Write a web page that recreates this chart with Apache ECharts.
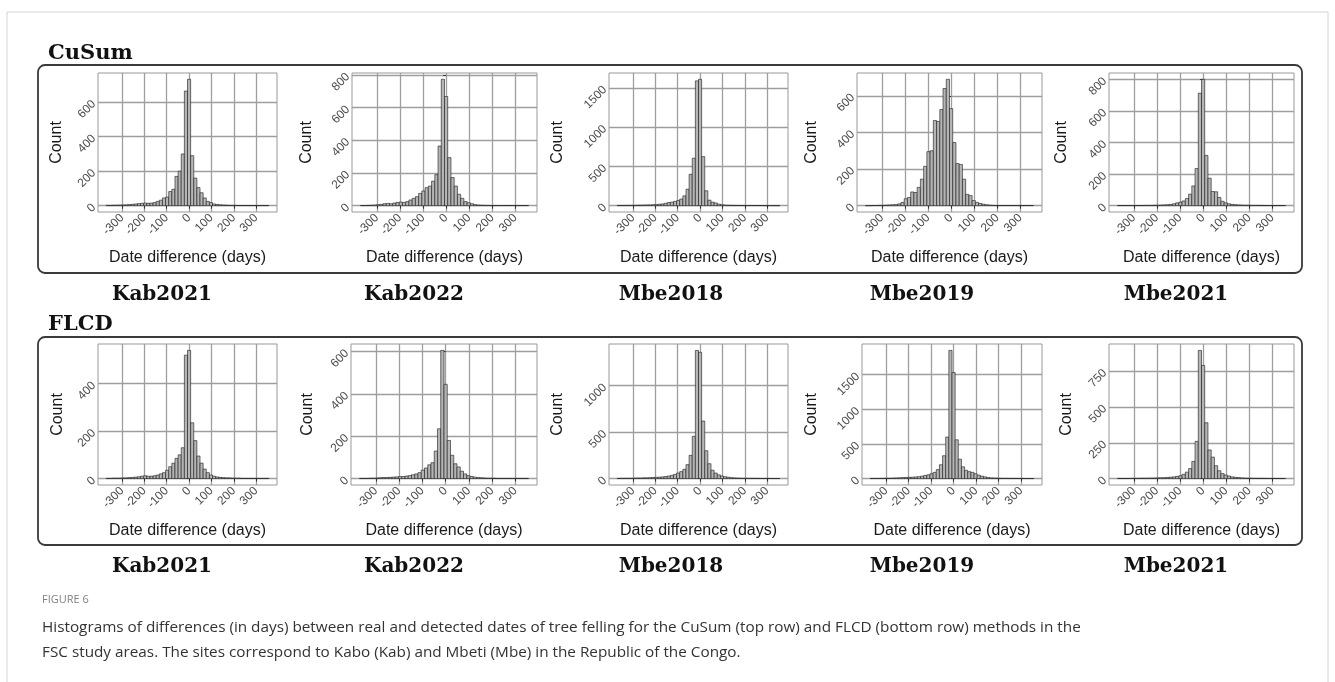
<!DOCTYPE html>
<html>
<head>
<meta charset="utf-8">
<script src="https://cdn.jsdelivr.net/npm/echarts@6/dist/echarts.min.js"></script>
<style>
html, body { margin: 0; padding: 0; background: #fff; }
#main { width: 1335px; height: 682px; }
</style>
</head>
<body>
<div id="main"></div>
<script>
// histogram bins (centre of each 14-day bin)
var binCenters = [-364,-350,-336,-322,-308,-294,-280,-266,-252,-238,-224,-210,-196,-182,-168,-154,-140,-126,-112,-98,-84,-70,-56,-42,-28,-14,0,14,28,42,56,70,84,98,112,126,140,154,168,182,196,210,224,238,252,266,280,294,308,322,336,350];
var binWidth = 14;

// CuSum (top row)
var cusumKab2021 = [2,2,3,3,4,4,5,6,8, 10,12,14,15,14,15,18,25,32,45,50,82,95,170,200,300,665,733,290,160,105,75,45,25,18,10,7,5,4,3,2, 2,2,1,1,1,1,1,1,1,1,1,1];
var cusumKab2022 = [1,1,2,3,4,6,8,12,14, 12,16,20,22,20,25,35,45,55,75,90,110,120,150,190,365,773,668,294,172,120,70,45,25,18,12,6,4,3,2,2, 1,1,1,1,1,1,1,1,1,1,1,1];
var cusumMbe2018 = [3,3,4,4,5,5,6,8,8, 10,10,12,14,18,22,30,40,45,55,65,85,125,210,400,605,1590,1610,625,190,70,45,35,20,12,8,6,5,4,3,3, 2,2,2,2,2,2,1,1,1,1,1,1];
var cusumMbe2019 = [0,0,1,1,2,2,3,4,5, 6,10,18,38,45,75,72,100,145,215,295,300,465,460,525,640,690,530,345,230,225,145,62,55,28,18,12,8,5,3,2, 1,1,1,1,1,1,1,1,1,1,1,1];
var cusumMbe2021 = [1,1,1,1,1,1,1,1,2,2,2,3,3,4,5,6,8, 12,18,22,30,45,73,125,235,712,800,318,174,90,88,52,28,18,12,8,6,5,4, 3,3,2,2,2,2,1,1,1,1,1,1,1];

// FLCD (bottom row)
var flcdKab2021 = [1,1,2,2,2,3,3,4,5, 6,8,10,12,10,10,12,15,20,25,35,50,65,85,100,130,520,540,235,160,95,65,40,25,15,10,7,5,4,3,3, 2,2,2,1,1,1,1,1,1,1,1,1];
var flcdKab2022 = [1,1,1,2,2,3,4,5,5, 6,7,8,10,10,12,14,18,22,28,40,50,65,75,130,235,605,445,180,110,70,55,35,22,14,10,7,5,4,3,2, 2,2,1,1,1,1,1,1,1,1,1,1];
var flcdMbe2018 = [2,3,3,4,4,5,6,6,8, 8,10,12,14,15,18,22,28,35,45,60,75,100,150,250,455,1380,1360,620,300,160,90,60,40,28,20,15,10,8,6,5, 4,4,3,3,3,2,2,2,2,1,1,1];
var flcdMbe2019 = [2,2,3,3,4,5,6,8,10, 12,14,16,18,20,24,28,35,45,55,70,90,130,200,330,600,1850,1530,560,280,170,120,100,90,70,50,35,25,15,10,8, 6,5,4,4,3,3,2,2,2,1,1,1];
var flcdMbe2021 = [1,1,1,1,2,2,2,3,3, 3,4,4,5,6,6,8,10,12,15,20,30,45,70,120,260,895,790,390,200,150,90,55,35,25,18,12,9,7,5,4, 3,3,2,2,2,2,1,1,1,1,1,1];

var siteNames = ['Kab2021', 'Kab2022', 'Mbe2018', 'Mbe2019', 'Mbe2021'];
var methodNames = ['CuSum', 'FLCD'];
var xTicks = [-300, -200, -100, 0, 100, 200, 300];
var cusumYTicks = [[0,200,400,600], [0,200,400,600,800], [0,500,1000,1500], [0,200,400,600], [0,200,400,600,800]];
var flcdYTicks = [[0,200,400], [0,200,400,600], [0,500,1000], [0,500,1000,1500], [0,250,500,750]];

var rows = [
	{counts: [cusumKab2021, cusumKab2022, cusumMbe2018, cusumMbe2019, cusumMbe2021], yTicks: cusumYTicks},
	{counts: [flcdKab2021, flcdKab2022, flcdMbe2018, flcdMbe2019, flcdMbe2021], yTicks: flcdYTicks}
];

// layout (pixels)
var rowTop = [73, 344];
var rowHeight = [139, 141];
var colLeft = [[98, 352, 609, 857, 1109], [98, 351, 609, 862, 1109]];
var colWidth = [[179, 185, 179, 185, 185], [179, 186, 179, 180, 185]];
var countGap = [[33, 37, 43, 37, 39], [32, 35, 43, 42, 34]];
var siteLabelX = [162, 414, 671, 922, 1176];

var sansFont = '"Liberation Sans", Arial, Helvetica, sans-serif';
var serifFont = '"DejaVu Serif", "Liberation Serif", serif';

// ggplot style range: bin edges expanded by 5%
var xLo = binCenters[0] - binWidth / 2;
var xHi = binCenters[binCenters.length - 1] + binWidth / 2;
var xPad = (xHi - xLo) * 0.05;

function plainNumber(v){
	return String(v);
}

var grids = [], xAxes = [], yAxes = [], series = [];

for (var r = 0; r < rows.length; r++) {
	for (var c = 0; c < 5; c++) {
		var idx = grids.length;
		var counts = rows[r].counts[c];
		var maxCount = Math.max.apply(null, counts);
		var histData = [];
		for (var k = 0; k < binCenters.length; k++) {
			histData.push([binCenters[k], counts[k]]);
		}
		grids.push({
			left: colLeft[r][c], top: rowTop[r],
			width: colWidth[r][c], height: rowHeight[r],
			containLabel: false, outerBoundsMode: 'none',
			show: true, borderColor: '#999', borderWidth: 1, backgroundColor: '#fff'
		});
		xAxes.push({
			gridIndex: idx, type: 'value',
			min: xLo - xPad, max: xHi + xPad,
			axisLine: {show: false},
			axisTick: {show: true, customValues: xTicks, length: 3, lineStyle: {color: '#333', width: 1}},
			axisLabel: {customValues: xTicks, formatter: plainNumber, rotate: 45, margin: 4, fontSize: 12, color: '#4d4d4d', fontFamily: sansFont},
			splitLine: {show: true, lineStyle: {color: '#9e9e9e', width: 1.3}},
			name: 'Date difference (days)', nameLocation: 'middle', nameGap: 38,
			nameTextStyle: {fontSize: 16, color: '#1a1a1a', fontFamily: sansFont}
		});
		yAxes.push({
			gridIndex: idx, type: 'value',
			min: -0.05 * maxCount, max: 1.05 * maxCount,
			axisLine: {show: false},
			axisTick: {show: true, customValues: rows[r].yTicks[c], length: 3, lineStyle: {color: '#333', width: 1}},
			axisLabel: {customValues: rows[r].yTicks[c], formatter: plainNumber, rotate: 45, margin: 4, fontSize: 12, color: '#4d4d4d', fontFamily: sansFont},
			splitLine: {show: true, lineStyle: {color: '#9e9e9e', width: 1.3}},
			name: 'Count', nameLocation: 'middle', nameGap: countGap[r][c],
			nameTextStyle: {fontSize: 16, color: '#1a1a1a', fontFamily: sansFont}
		});
		series.push({
			type: 'custom',
			xAxisIndex: idx, yAxisIndex: idx,
			clip: true,
			encode: {x: 0, y: 1},
			data: histData,
			renderItem: function (params, api) {
				var x = api.value(0), n = api.value(1);
				var p0 = api.coord([x - binWidth / 2, 0]);
				var p1 = api.coord([x + binWidth / 2, n]);
				return {
					type: 'rect',
					shape: {x: p0[0], y: p1[1], width: p1[0] - p0[0], height: p0[1] - p1[1]},
					style: {fill: '#b5b5b5', stroke: '#1a1a1a', lineWidth: 0.6}
				};
			}
		});
	}
}

var graphics = [
	// page frame
	{type: 'rect', silent: true, z: -10, shape: {x: 7, y: 12, width: 1321, height: 700}, style: {fill: 'none', stroke: '#d4d4d4', lineWidth: 1}},
	// row boxes
	{type: 'rect', silent: true, shape: {x: 38, y: 65, width: 1264, height: 208, r: 7}, style: {fill: 'none', stroke: '#3a3a3a', lineWidth: 1.8}},
	{type: 'rect', silent: true, shape: {x: 38, y: 337, width: 1264, height: 208, r: 7}, style: {fill: 'none', stroke: '#3a3a3a', lineWidth: 1.8}},
	{type: 'text', style: {text: methodNames[0], x: 48, y: 54, font: 'bold 21px ' + serifFont, fill: '#111', textVerticalAlign: 'middle'}},
	{type: 'text', style: {text: methodNames[1], x: 48, y: 325, font: 'bold 21px ' + serifFont, fill: '#111', textVerticalAlign: 'middle'}},
	{type: 'text', style: {text: 'FIGURE 6', x: 42, y: 600, font: '11px "Open Sans", sans-serif', fill: '#808080', textVerticalAlign: 'middle'}},
	{type: 'text', style: {
		text: 'Histograms of differences (in days) between real and detected dates of tree felling for the CuSum (top row) and FLCD (bottom row) methods in the\nFSC study areas. The sites correspond to Kabo (Kab) and Mbeti (Mbe) in the Republic of the Congo.',
		x: 42, y: 615, font: '15.3px "Open Sans", sans-serif', fill: '#333', lineHeight: 25, textVerticalAlign: 'top'
	}}
];
var labelY = [295, 567];
for (var rr = 0; rr < 2; rr++) {
	for (var cc = 0; cc < 5; cc++) {
		graphics.push({type: 'text', style: {text: siteNames[cc], x: siteLabelX[cc], y: labelY[rr], font: 'bold 20px ' + serifFont, fill: '#111', textAlign: 'center', textVerticalAlign: 'middle'}});
	}
}

var chart = echarts.init(document.getElementById('main'));
chart.setOption({
	animation: false,
	backgroundColor: '#fff',
	grid: grids,
	xAxis: xAxes,
	yAxis: yAxes,
	series: series,
	graphic: graphics
});
</script>
</body>
</html>
